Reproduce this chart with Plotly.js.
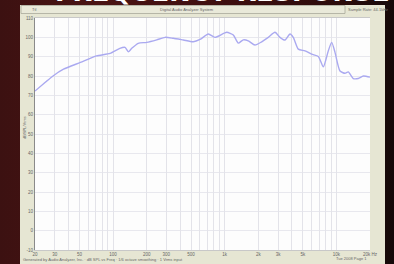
<!DOCTYPE html>
<html>
<head>
<meta charset="utf-8">
<script src="https://cdn.plot.ly/plotly-3.0.1.min.js"></script>
<style>
html,body{margin:0;padding:0;width:394px;height:264px;overflow:hidden;
background:linear-gradient(90deg,#3c1111 0%,#4a1313 25%,#3d0f0f 60%,#2a0b0b 88%,#140909 100%);}
#chart{width:394px;height:264px;}
</style>
</head>
<body>
<div id="chart"></div>
<script>
// ---- data ----
const freqHz = [20, 29, 36, 51, 71, 94, 115, 128, 137, 147, 168, 200, 246, 292, 346, 426, 523, 601,
  713, 818, 1042, 1194, 1323, 1466, 1626, 1866, 2143, 2456, 2819, 3126, 3466, 3842, 4112, 4560,
  5236, 6010, 6887, 7638, 8464, 9078, 9718, 10770, 11940, 12780, 14160, 15700, 17420, 20000];
const levelDb = [72.2, 80.0, 83.5, 87.0, 90.4, 91.7, 94.3, 94.8, 92.5, 94.3, 96.9, 97.4, 98.7, 100.0, 99.5, 98.6, 97.7, 98.9,
  101.7, 100.0, 102.6, 101.2, 97.0, 98.7, 98.2, 96.0, 97.7, 100.0, 102.6, 100.0, 98.6, 101.7, 100.0, 93.9,
  93.0, 91.3, 90.1, 84.7, 93.0, 97.4, 92.2, 82.6, 81.4, 82.1, 78.7, 78.7, 80.0, 79.4];
const xGridVals = [20,30,40,50,60,70,80,90,100,200,300,400,500,600,700,800,900,
  1000,2000,3000,4000,5000,6000,7000,8000,9000,10000,20000];
const xGridText = ["20","30","","50","","","","","100","200","300","","500","","","","",
  "1k","2k","3k","","5k","","","","","10k","20k Hz"];
const yTickVals = [-10,0,10,20,30,40,50,60,70,80,90,100,110];
const yTickText = ["-10","0","10","20","30","40","50","60","70","80","90","100","110"];
const chartTitle = "FREQUENCY RESPONSE";
const headerText = "Digital Audio Analyzer System";
const yTitle = "dBSPL/Vrms";

// pixel -> paper helpers for layout decoration (plot area 35..370 x 18..250)
const L=35, R=370, T=18, B=250;
const px = x => (x-L)/(R-L);
const py = y => (B-y)/(B-T);

const small = {family:"Liberation Sans, Arial, sans-serif", size:4, color:"#666"};

const trace = {
  x: freqHz, y: levelDb, type:"scatter", mode:"lines",
  line:{color:"#aaa9f0", width:1.4, shape:"spline", smoothing:0.6},
  hoverinfo:"skip"
};

const layout = {
  width:394, height:264,
  margin:{l:L, r:394-R, t:T, b:264-B, pad:0},
  paper_bgcolor:"rgba(0,0,0,0)",
  plot_bgcolor:"rgba(0,0,0,0)",
  showlegend:false,
  xaxis:{
    type:"log", range:[Math.log10(20), Math.log10(20000)],
    tickmode:"array", tickvals:xGridVals, ticktext:xGridText,
    showgrid:true, gridcolor:"#dcdce4", gridwidth:0.8,
    ticks:"", tickfont:{family:small.family,size:4.5,color:"#666"},
    showline:true, linecolor:"#c8c8c8", linewidth:1, mirror:true,
    zeroline:false, fixedrange:true
  },
  yaxis:{
    range:[-10,110], tickmode:"array", tickvals:yTickVals, ticktext:yTickText,
    showgrid:true, gridcolor:"#e2e2ea", gridwidth:0.8,
    ticks:"", tickfont:{family:small.family,size:4.5,color:"#666"},
    showline:true, linecolor:"#8a8a8a", linewidth:1, mirror:false,
    zeroline:false, fixedrange:true
  },
  shapes:[
    {type:"rect", xref:"paper", yref:"paper", layer:"below",
     x0:px(20), x1:px(385), y0:py(264), y1:py(5),
     fillcolor:"#e6e6d3", line:{width:0}},
    {type:"rect", xref:"paper", yref:"paper", layer:"below",
     x0:px(21), x1:px(345), y0:py(13.5), y1:py(5.5),
     fillcolor:"#e9e9d9", line:{width:0.8, color:"#a8a89a"}},
    {type:"rect", xref:"paper", yref:"paper", layer:"below",
     x0:0, x1:1, y0:0, y1:1,
     fillcolor:"#fdfdfd", line:{width:0}}
  ],
  annotations:[
    {text:"<b>"+chartTitle+"</b>", xref:"paper", yref:"paper", x:px(222), y:py(-8),
     xanchor:"center", yanchor:"middle", showarrow:false,
     font:{family:"DejaVu Sans, sans-serif", size:25.5, color:"#ffffff"}},
    {text:headerText, xref:"paper", yref:"paper", x:px(187), y:py(9.5),
     xanchor:"center", yanchor:"middle", showarrow:false, font:small},
    {text:"Ttl", xref:"paper", yref:"paper", x:px(30), y:py(9.5),
     xanchor:"left", yanchor:"middle", showarrow:false, font:small},
    {text:"Sample Rate: 44.1kHz", xref:"paper", yref:"paper", x:px(368), y:py(9.5),
     xanchor:"center", yanchor:"middle", showarrow:false, font:small},
    {text:yTitle, xref:"paper", yref:"paper", x:px(24), y:py(128),
     xanchor:"center", yanchor:"middle", textangle:-90, showarrow:false, font:small},
    {text:"Generated by Audio Analyzer, Inc. · dB SPL vs Freq · 1/6 octave smoothing · 1 Vrms input",
     xref:"paper", yref:"paper", x:px(21), y:py(259.5),
     xanchor:"left", yanchor:"middle", showarrow:false, font:small},
    {text:"Tue 2008 Page 1", xref:"paper", yref:"paper", x:px(351), y:py(258.5),
     xanchor:"center", yanchor:"middle", showarrow:false, font:small}
  ]
};

Plotly.newPlot("chart",[trace],layout,{displayModeBar:false,staticPlot:true});
</script>
</body>
</html>
